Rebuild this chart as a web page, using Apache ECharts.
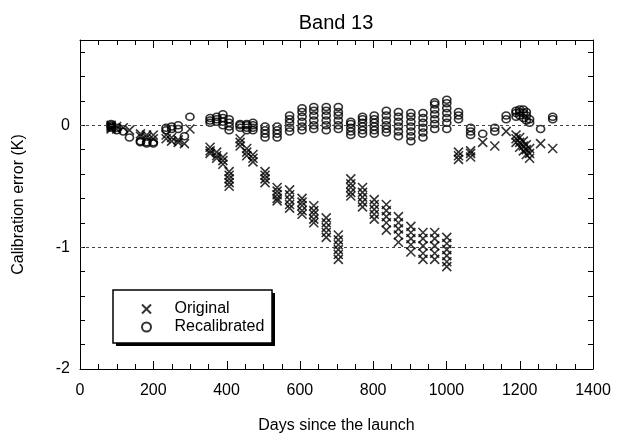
<!DOCTYPE html>
<html>
<head>
<meta charset="utf-8">
<script src="https://cdn.jsdelivr.net/npm/echarts@6/dist/echarts.min.js"></script>
<style>
  html, body { margin: 0; padding: 0; background: #fff; }
  #chart { width: 624px; height: 444px; }
</style>
</head>
<body>
<div id="chart"></div>
<script>
// Observation epochs (days since launch)
const obsDays = [85, 100, 118, 135, 165, 182, 200, 235, 250, 268, 285, 300,
  355, 373, 390, 407, 437, 455, 472, 505, 538, 572, 606, 638, 672, 705,
  739, 771, 803, 836, 869, 903, 936, 968, 1001,
  1033, 1066, 1099, 1132, 1163, 1190, 1200, 1210, 1218, 1227, 1257, 1290];

// Calibration error (K) before recalibration, one list per epoch
const originalErr = [
  [0.00, -0.01, -0.02, -0.03], [-0.01, -0.03], [-0.02], [-0.04],
  [-0.07, -0.09], [-0.08, -0.10], [-0.08, -0.11],
  [-0.08, -0.11], [-0.10, -0.13], [-0.12, -0.14], [-0.15], [-0.03],
  [-0.18, -0.21, -0.23], [-0.22, -0.25, -0.27], [-0.26, -0.29, -0.32],
  [-0.38, -0.41, -0.44, -0.47, -0.50],
  [-0.11, -0.14, -0.17], [-0.19, -0.22, -0.25], [-0.24, -0.27, -0.30],
  [-0.38, -0.41, -0.44, -0.47], [-0.51, -0.54, -0.57, -0.60, -0.62],
  [-0.53, -0.57, -0.61, -0.65, -0.68], [-0.60, -0.63, -0.66, -0.70, -0.73],
  [-0.66, -0.70, -0.73, -0.77, -0.80], [-0.76, -0.80, -0.84, -0.88, -0.92],
  [-0.90, -0.94, -0.98, -1.02, -1.06, -1.10],
  [-0.44, -0.48, -0.51, -0.55, -0.58], [-0.51, -0.55, -0.59, -0.63, -0.67],
  [-0.61, -0.65, -0.69, -0.73, -0.77], [-0.65, -0.70, -0.75, -0.80, -0.86],
  [-0.75, -0.80, -0.85, -0.90, -0.96], [-0.83, -0.88, -0.93, -0.98, -1.04],
  [-0.88, -0.93, -0.99, -1.05, -1.10], [-0.88, -0.93, -0.99, -1.05, -1.10],
  [-0.92, -0.97, -1.02, -1.07, -1.12, -1.16],
  [-0.22, -0.25, -0.28], [-0.21, -0.23, -0.26], [-0.14], [-0.17], [-0.05],
  [-0.08, -0.11, -0.14], [-0.10, -0.14, -0.18], [-0.13, -0.17, -0.21],
  [-0.16, -0.20, -0.24], [-0.19, -0.23, -0.27], [-0.15], [-0.19]
];

// Calibration error (K) after recalibration, one list per epoch
const recalErr = [
  [0.01, 0.00, -0.01, -0.02], [-0.02, -0.04], [-0.05], [-0.10],
  [-0.13, -0.14], [-0.14, -0.15], [-0.14, -0.15],
  [-0.02, -0.04], [-0.01, -0.03], [0.00, -0.03], [-0.09], [0.07],
  [0.02, 0.04, 0.06], [0.03, 0.05, 0.07], [0.00, 0.03, 0.06, 0.09],
  [-0.04, -0.01, 0.02, 0.05],
  [-0.02, 0.00, 0.01], [-0.04, -0.02, 0.00, 0.01], [-0.04, -0.02, 0.00, 0.02],
  [-0.10, -0.07, -0.04, -0.01], [-0.10, -0.07, -0.04, -0.01],
  [-0.05, -0.02, 0.02, 0.05, 0.08], [-0.04, -0.01, 0.03, 0.07, 0.11, 0.14],
  [-0.03, 0.00, 0.04, 0.08, 0.12, 0.15], [-0.04, 0.00, 0.04, 0.08, 0.12, 0.15],
  [-0.03, 0.00, 0.04, 0.08, 0.11, 0.15],
  [-0.08, -0.05, -0.02, 0.01, 0.03], [-0.07, -0.04, -0.01, 0.02, 0.05, 0.07],
  [-0.07, -0.04, -0.01, 0.02, 0.05, 0.08], [-0.06, -0.03, 0.00, 0.04, 0.08, 0.12],
  [-0.09, -0.05, -0.01, 0.03, 0.07, 0.11], [-0.13, -0.09, -0.05, -0.01, 0.03, 0.07, 0.10],
  [-0.10, -0.06, -0.02, 0.02, 0.06, 0.10], [-0.03, 0.01, 0.05, 0.09, 0.13, 0.17, 0.19],
  [-0.03, 0.02, 0.06, 0.10, 0.14, 0.18, 0.21],
  [0.05, 0.08, 0.11], [-0.08, -0.05, -0.02], [-0.07], [-0.05, -0.02], [0.05, 0.08],
  [0.07, 0.10, 0.12], [0.08, 0.11, 0.13], [0.06, 0.10, 0.13],
  [0.04, 0.08, 0.11], [0.02, 0.05], [-0.03], [0.05, 0.07]
];

const xTicks = { min: 0, max: 1400, step: 200, minorStep: 50 };
const yTicks = { min: -2, max: 0.7, step: 0.2 };
const refLevels = [0, -1];

function toPoints(days, groups) {
  const pts = [];
  days.forEach((d, i) => groups[i].forEach(v => pts.push([d, v])));
  return pts;
}

// Day positions of the frame ticks along the top and bottom edges
function frameTickDays() {
  const out = [];
  for (let d = xTicks.min + xTicks.minorStep; d < xTicks.max; d += xTicks.minorStep) {
    out.push([d, yTicks.min]);
  }
  return out;
}

const FONT = 'Liberation Sans, Arial, sans-serif';
const BLACK = '#000';

function xAxisCfg(pos, withLabels) {
  return {
    type: 'value', position: pos,
    min: xTicks.min, max: xTicks.max, interval: xTicks.step,
    axisLine: { show: true, onZero: false, lineStyle: { color: BLACK, width: 1 } },
    axisTick: { show: false },
    axisLabel: {
      show: withLabels, color: BLACK, fontSize: 16, fontFamily: FONT, margin: 14,
      formatter: v => String(v)
    },
    splitLine: { show: false },
    name: withLabels ? 'Days since the launch' : '',
    nameLocation: 'middle', nameGap: 49,
    nameTextStyle: { color: BLACK, fontSize: 16, fontFamily: FONT }
  };
}

function yAxisCfg(pos, withLabels) {
  return {
    type: 'value', position: pos,
    min: yTicks.min, max: yTicks.max, interval: yTicks.step,
    axisLine: { show: true, onZero: false, lineStyle: { color: BLACK, width: 1 } },
    axisTick: { show: true, inside: true, length: 5, lineStyle: { color: BLACK, width: 1 } },
    axisLabel: {
      show: withLabels, color: BLACK, fontSize: 16, fontFamily: FONT, margin: 10,
      formatter: v => (Math.abs(v - Math.round(v)) < 1e-6 ? String(Math.round(v) || 0) : '')
    },
    splitLine: { show: false },
    name: withLabels ? 'Calibration error (K)' : '',
    nameLocation: 'middle', nameGap: 53,
    nameTextStyle: { color: BLACK, fontSize: 16, fontFamily: FONT }
  };
}

// Inward tick pair (bottom and top edge) for one day position
function renderFrameTick(params, api) {
  const day = api.value(0);
  const x = Math.round(api.coord([day, yTicks.min])[0]) + 0.5;
  const cs = params.coordSys;
  const len = day % xTicks.step === 0 ? 8 : 5;
  const bottom = cs.y + cs.height;
  const style = { stroke: BLACK, lineWidth: 1, fill: null };
  return {
    type: 'group',
    children: [
      { type: 'line', shape: { x1: x, y1: bottom, x2: x, y2: bottom - len }, style: style },
      { type: 'line', shape: { x1: x, y1: cs.y, x2: x, y2: cs.y + len }, style: style }
    ]
  };
}

const chart = echarts.init(document.getElementById('chart'), null, { renderer: 'canvas' });

chart.setOption({
  backgroundColor: '#fff',
  animation: false,
  title: {
    text: 'Band 13', left: 331, top: 8, textAlign: 'center',
    textStyle: { color: BLACK, fontSize: 20, fontWeight: 'normal', fontFamily: FONT }
  },
  grid: { left: 80, right: 31, top: 40, bottom: 75, containLabel: false },
  xAxis: [xAxisCfg('bottom', true), xAxisCfg('top', false)],
  yAxis: [yAxisCfg('left', true), yAxisCfg('right', false)],
  graphic: [
    { type: 'rect', z: 1, shape: { x: 116, y: 293, width: 159, height: 53 }, style: { fill: BLACK } },
    { type: 'rect', z: 2, shape: { x: 113, y: 290, width: 159, height: 53 },
      style: { fill: '#fff', stroke: BLACK, lineWidth: 1.5 } }
  ],
  legend: {
    orient: 'vertical', left: 141, top: 301, padding: 0,
    itemWidth: 46, itemHeight: 9, itemGap: 2, z: 10,
    textStyle: { color: BLACK, fontSize: 16, fontFamily: FONT },
    data: ['Original', 'Recalibrated']
  },
  series: [
    {
      name: 'Original', type: 'scatter', xAxisIndex: 0, yAxisIndex: 0,
      symbol: 'path://M0,0L10,10M10,0L0,10', symbolSize: 9,
      itemStyle: { color: 'rgba(0,0,0,0)', borderColor: BLACK, borderWidth: 1.6 },
      data: toPoints(obsDays, originalErr),
      markLine: {
        silent: true, symbol: 'none', label: { show: false },
        lineStyle: { color: '#444', type: [3, 3], width: 1 },
        data: refLevels.map(v => ({ yAxis: v }))
      }
    },
    {
      name: 'Recalibrated', type: 'scatter', xAxisIndex: 0, yAxisIndex: 0,
      symbol: 'circle', symbolSize: [8, 7],
      itemStyle: { color: 'rgba(0,0,0,0)', borderColor: BLACK, borderWidth: 1.6 },
      data: toPoints(obsDays, recalErr)
    },
    {
      name: 'frameTicks', type: 'custom', xAxisIndex: 0, yAxisIndex: 0,
      silent: true, clip: false, z: 5,
      encode: { x: 0, y: 1 },
      renderItem: renderFrameTick,
      data: frameTickDays()
    }
  ]
});
</script>
</body>
</html>
